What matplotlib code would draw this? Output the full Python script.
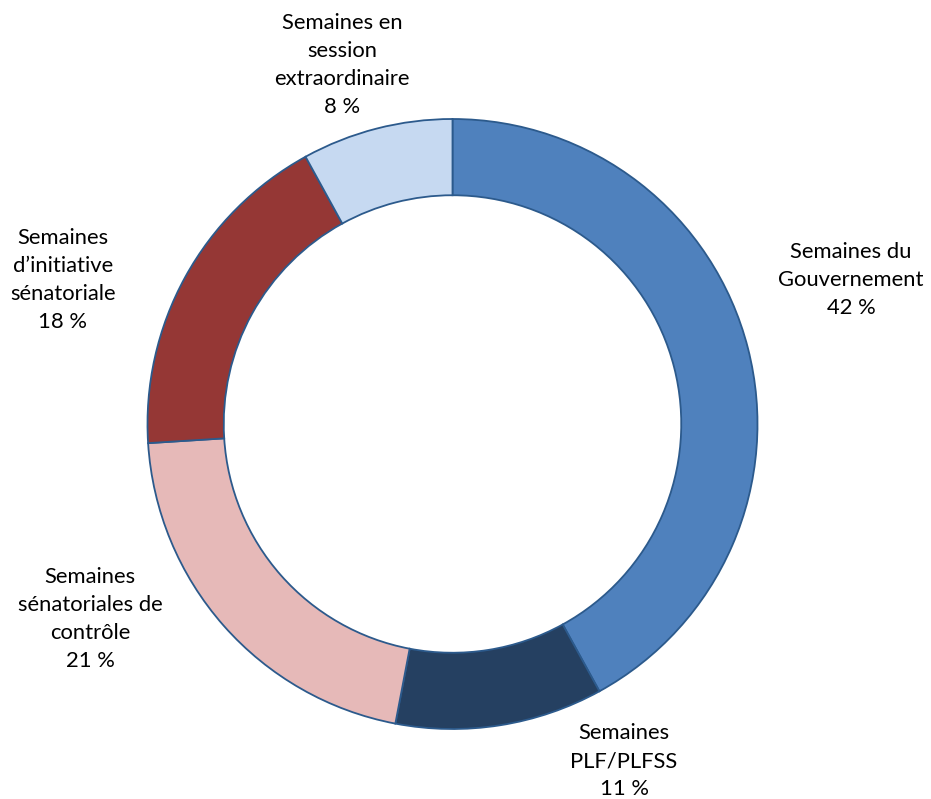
import matplotlib
matplotlib.use("Agg")
import matplotlib.pyplot as plt

categories = ["Semaines du\nGouvernement", "Semaines\nPLF/PLFSS", "Semaines\nsénatoriales de\ncontrôle",
              "Semaines\nd\u2019initiative\nsénatoriale", "Semaines en\nsession\nextraordinaire"]
values = [42, 11, 21, 18, 8]
colors = ["#4F81BD", "#254061", "#E6B9B8", "#953735", "#C6D9F1"]
# label block centers in pixels
label_px = [(851, 280), (624, 761), (90, 619), (63, 280), (342, 65)]

W, H = 931, 799
cx, cy, R = 452.5, 424, 305
fig = plt.figure(figsize=(W / 100, H / 100), dpi=100)
ax = fig.add_axes([0, 0, 1, 1])
ax.pie(values, colors=colors, startangle=90, counterclock=False, radius=1,
       wedgeprops=dict(width=0.25, edgecolor="#2C5A8C", linewidth=1.3))
ax.set_xlim(-cx / R, (W - cx) / R)
ax.set_ylim((cy - H) / R, cy / R)
ax.set_aspect("auto")
ax.axis("off")

for cat, v, (px, py) in zip(categories, values, label_px):
    ax.text((px - cx) / R, (cy - py) / R, f"{cat}\n{v} %", ha="center", va="center",
            fontsize=15.8, family=["Lato", "DejaVu Sans"], linespacing=1.5, color="#000000")

fig.savefig("out.png", dpi=100)
